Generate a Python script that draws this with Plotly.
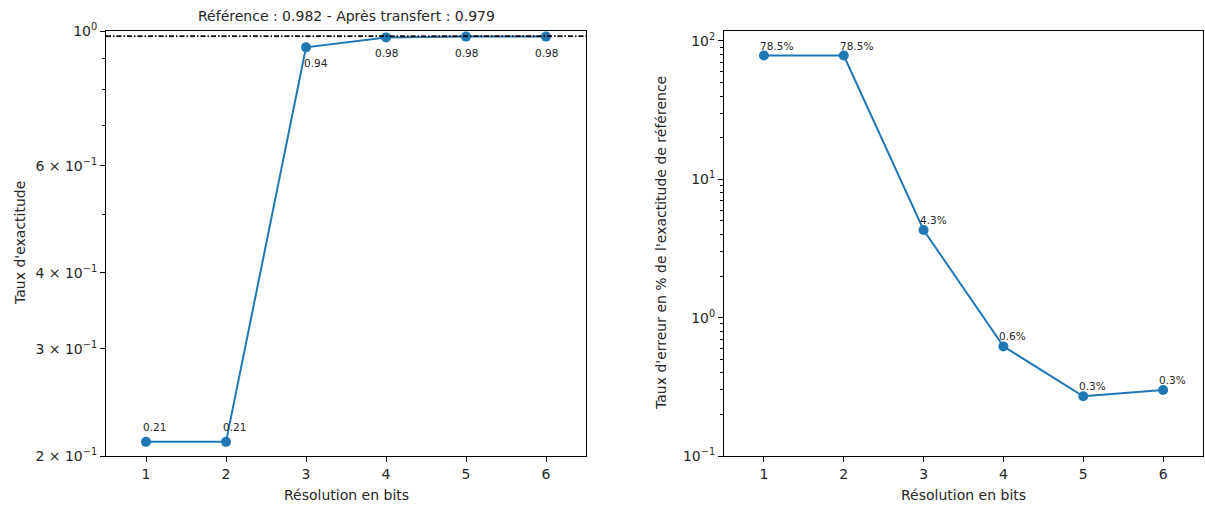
import numpy as np
import plotly.graph_objects as go

# Data
bits = [1, 2, 3, 4, 5, 6]
accuracy = [0.211, 0.211, 0.940, 0.976, 0.979, 0.979]
accuracy_labels = ["0.21", "0.21", "0.94", "0.98", "0.98", "0.98"]
error_pct = [78.5, 78.5, 4.3, 0.62, 0.27, 0.30]
error_labels = ["78.5%", "78.5%", "4.3%", "0.6%", "0.3%", "0.3%"]
ref_acc = 0.982
transfer_acc = 0.979

acc_ticks = [0.2, 0.3, 0.4, 0.6, 1.0]
acc_ticktext = ["2 × 10<sup>−1</sup>", "3 × 10<sup>−1</sup>", "4 × 10<sup>−1</sup>",
                "6 × 10<sup>−1</sup>", "10<sup>0</sup>"]
acc_minor = [0.5, 0.7, 0.8, 0.9]
err_ticks = [0.1, 1, 10, 100]
err_ticktext = ["10<sup>−1</sup>", "10<sup>0</sup>", "10<sup>1</sup>", "10<sup>2</sup>"]
err_minor = [m * d for d in (0.1, 1, 10) for m in range(2, 10)]

W, H = 1205, 508
BLUE = "#1f77b4"
FONT = "DejaVu Sans"
TXT = "#262626"


def px_x(p):
    return p / W


def px_y(p):
    return (H - p) / H


ydom = [px_y(456), px_y(31)]

fig = go.Figure()

marker = dict(color=BLUE, size=10)
line = dict(color=BLUE, width=2)

fig.add_trace(go.Scatter(x=bits, y=accuracy, mode="lines+markers", line=line,
                         marker=marker, xaxis="x", yaxis="y", showlegend=False))
fig.add_trace(go.Scatter(x=bits, y=error_pct, mode="lines+markers", line=line,
                         marker=marker, xaxis="x2", yaxis="y2", showlegend=False))

# reference / transfer accuracy lines
for val in (ref_acc, transfer_acc):
    fig.add_shape(type="line", xref="x domain", yref="y", x0=0, x1=1, y0=val, y1=val,
                  line=dict(color="black", width=1, dash="5px,2px,1.5px,2px"))

annotations = []
# value labels, accuracy panel
for b, v, t in zip(bits, accuracy, accuracy_labels):
    if v < 0.5:
        xa, xs, ys = "left", -5, 15
    elif b == 3:
        xa, xs, ys = "left", -4, -16
    else:
        xa, xs, ys = "center", 0, -16
    annotations.append(dict(x=b, y=np.log10(v), xref="x", yref="y", text=t,
                            showarrow=False, xanchor=xa, yanchor="middle",
                            xshift=xs, yshift=ys,
                            font=dict(family=FONT, size=10.5, color=TXT)))
# value labels, error panel
for b, v, t in zip(bits, error_pct, error_labels):
    annotations.append(dict(x=b, y=np.log10(v), xref="x2", yref="y2", text=t,
                            showarrow=False, xanchor="left", yanchor="middle",
                            xshift=-6, yshift=10,
                            font=dict(family=FONT, size=10.5, color=TXT)))

# titles
annotations.append(dict(x=px_x(346), y=px_y(16), xref="paper", yref="paper",
                        text="Référence : 0.982 - Après transfert : 0.979",
                        showarrow=False, xanchor="center", yanchor="middle",
                        font=dict(family=FONT, size=14, color=TXT)))
annotations.append(dict(x=px_x(346), y=px_y(495), xref="paper", yref="paper",
                        text="Résolution en bits", showarrow=False,
                        xanchor="center", yanchor="middle",
                        font=dict(family=FONT, size=14, color=TXT)))
annotations.append(dict(x=px_x(963), y=px_y(495), xref="paper", yref="paper",
                        text="Résolution en bits", showarrow=False,
                        xanchor="center", yanchor="middle",
                        font=dict(family=FONT, size=14, color=TXT)))
annotations.append(dict(x=px_x(20), y=px_y(243), xref="paper", yref="paper",
                        text="Taux d'exactitude", showarrow=False, textangle=-90,
                        xanchor="center", yanchor="middle",
                        font=dict(family=FONT, size=14, color=TXT)))
annotations.append(dict(x=px_x(661), y=px_y(243), xref="paper", yref="paper",
                        text="Taux d'erreur en % de l'exactitude de référence",
                        showarrow=False, textangle=-90,
                        xanchor="center", yanchor="middle",
                        font=dict(family=FONT, size=14, color=TXT)))

axis_common = dict(showgrid=False, zeroline=False, showline=True, linecolor="black",
                   linewidth=1, mirror=True, ticks="outside", ticklen=5, tickwidth=1,
                   tickcolor="black", automargin=False,
                   tickfont=dict(family=FONT, size=14, color=TXT))

fig.update_layout(
    width=W, height=H, autosize=False,
    margin=dict(l=0, r=0, t=0, b=0),
    paper_bgcolor="white", plot_bgcolor="white",
    showlegend=False,
    annotations=annotations,
    xaxis=dict(axis_common, domain=[px_x(106), px_x(586)], range=[0.5, 6.5],
               tickvals=bits, anchor="y"),
    yaxis=dict(axis_common, domain=ydom, type="log",
               range=[np.log10(0.2), 0], tickvals=acc_ticks, ticktext=acc_ticktext,
               anchor="x",
               minor=dict(tickvals=acc_minor, ticks="outside", ticklen=3,
                          tickcolor="black", tickwidth=1, showgrid=False)),
    xaxis2=dict(axis_common, domain=[px_x(724), px_x(1203)], range=[0.5, 6.5],
                tickvals=bits, anchor="y2"),
    yaxis2=dict(axis_common, domain=ydom, type="log",
                range=[-1, 2.072], tickvals=err_ticks, ticktext=err_ticktext,
                anchor="x2",
                minor=dict(tickvals=err_minor, ticks="outside", ticklen=3,
                           tickcolor="black", tickwidth=1, showgrid=False)),
)

fig.write_html("out.html")
